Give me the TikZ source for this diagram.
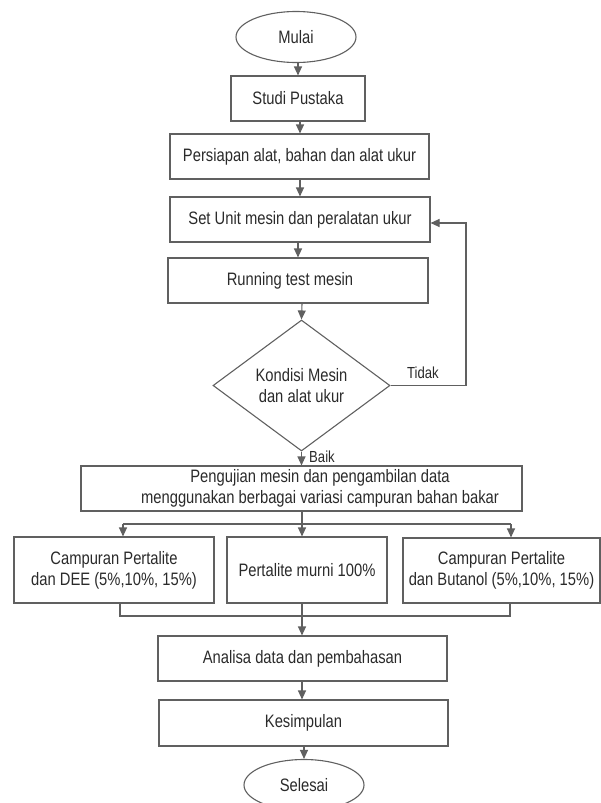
\documentclass[tikz,border=0pt]{standalone}
\usepackage{fontspec}
\setmainfont{Liberation Sans}[FakeStretch=0.82]
\usetikzlibrary{shapes.geometric,arrows.meta}
\definecolor{ln}{HTML}{606060}
\definecolor{tx}{HTML}{2A2A2A}
\begin{document}
\begin{tikzpicture}[x=1pt,y=-1pt,
  every node/.style={text=tx, font=\fontsize{18}{21}\selectfont},
  box/.style={draw=ln, line width=1.1pt, rectangle, inner sep=2pt, align=center, minimum height=45pt},
  term/.style={draw=ln, line width=1.1pt, ellipse, minimum width=120pt, minimum height=51pt, inner sep=0pt},
  dec/.style={draw=ln, line width=1.1pt, diamond, minimum width=177pt, minimum height=131pt, inner sep=0pt, align=center},
  arr/.style={draw=ln, line width=1.1pt, -{Triangle[length=9pt,width=8pt]}},
  conn/.style={draw=ln, line width=1.1pt},
  lbl/.style={font=\fontsize{16}{18}\selectfont}
]
\useasboundingbox (0,0) rectangle (601,803);
\clip (0,0) rectangle (601,803);

\node[term] (mulai) at (296,37) {Mulai};
\node[box, minimum width=134pt] (studi) at (298,98.5) {Studi Pustaka};
\node[box, minimum width=259pt] (persiapan) at (299.5,156.5) {Persiapan alat, bahan dan alat ukur};
\node[box, minimum width=260pt] (set) at (300,219.5) {Set Unit mesin dan peralatan ukur};
\node[box, minimum width=260pt] (run) at (298,280.5) {Running test mesin\hspace*{16pt}};
\node[dec] (dia) at (301.5,385.5) {Kondisi Mesin\\dan alat ukur};
\node[box, minimum width=441pt] (uji) at (301.5,488.5)
  {\hspace*{37pt}Pengujian mesin dan pengambilan data\\\hspace*{37pt}menggunakan berbagai variasi campuran bahan bakar};
\node[box, minimum width=200pt, minimum height=66pt] (left) at (114,570) {Campuran Pertalite\\dan DEE (5\%,10\%, 15\%)};
\node[box, minimum width=160pt, minimum height=66pt] (mid) at (307,570) {Pertalite murni 100\%};
\node[box, minimum width=197pt, minimum height=65pt] (right) at (501.5,570.5) {Campuran Pertalite\\dan Butanol (5\%,10\%, 15\%)};
\node[box, minimum width=289pt] (analisa) at (302.5,658.5) {Analisa data dan pembahasan};
\node[box, minimum width=289pt, minimum height=46pt] (kesimpulan) at (303.5,723) {Kesimpulan};
\node[term] (selesai) at (304,785) {Selesai};

\node[lbl] (tidak) at (423,373) {Tidak};
\node[lbl, anchor=west, inner sep=0pt] (baik) at (309,457) {Baik};

% main column
\coordinate (c1) at (298,0);
\draw[arr] (mulai.south -| c1) -- (studi.north -| c1);
\coordinate (c2) at (300,0);
\draw[arr] (studi.south -| c2) -- (persiapan.north -| c2);
\draw[arr] (persiapan.south -| c2) -- (set.north -| c2);
\coordinate (c3) at (298,0);
\draw[arr] (set.south -| c3) -- (run.north -| c3);
\coordinate (c4) at (302,0);
\draw[arr] (run.south -| c4) -- (dia.north);
\draw[arr] (dia.south) -- (dia.south |- uji.north);

% feedback loop
\coordinate (fb) at (466,223);
\draw[arr] (dia.east) -| (fb) -- (fb -| set.east);

% branches
\coordinate (bl) at (123,524);
\coordinate (bc) at (302,524);
\coordinate (bR) at (511,524);
\draw[conn] (uji.south -| bc) -- (bc);
\draw[conn] (bl) -- (bR);
\draw[arr] (bl) -- (bl |- left.north);
\draw[arr] (bc) -- (bc |- mid.north);
\draw[arr] (bR) -- (bR |- right.north);

% merge
\coordinate (ml) at (120,616);
\coordinate (mc) at (302,616);
\coordinate (mr) at (510,616);
\draw[conn] (ml |- left.south) -- (ml) -- (mr) -- (mr |- right.south);
\draw[arr] (mc |- mid.south) -- (mc |- analisa.north);

\coordinate (c5) at (302,0);
\draw[arr] (analisa.south -| c5) -- (kesimpulan.north -| c5);
\coordinate (c6) at (304,0);
\draw[arr] (kesimpulan.south -| c6) -- (selesai.north -| c6);
\end{tikzpicture}
\end{document}
